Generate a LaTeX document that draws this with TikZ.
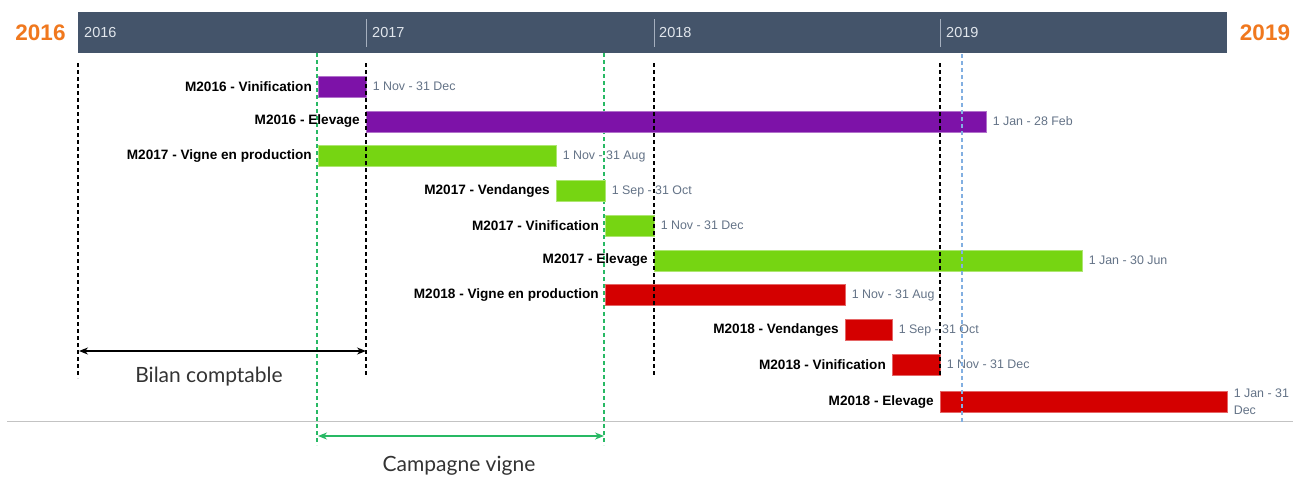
\documentclass[tikz,border=0pt]{standalone}
\usepackage{fontspec}
\setmainfont{Liberation Sans}
\newfontfamily\latofont{Lato}
\usetikzlibrary{arrows.meta}
\definecolor{hdr}{RGB}{68,84,106}
\definecolor{orng}{RGB}{240,120,30}
\definecolor{purp}{RGB}{125,18,168}
\definecolor{grn}{RGB}{118,213,18}
\definecolor{rd}{RGB}{212,0,0}
\definecolor{dategrey}{RGB}{100,115,135}
\definecolor{campgreen}{RGB}{40,185,100}
\definecolor{lblue}{RGB}{130,175,225}
\definecolor{tickgrey}{RGB}{165,175,190}
\definecolor{hdrtext}{RGB}{225,230,236}
\definecolor{sepgrey}{RGB}{195,195,195}
\begin{document}
\begin{tikzpicture}[x=1pt,y=-1pt,
  bar/.style={fill=#1, draw=#1!60!white, line width=0.6pt, minimum height=21pt, inner sep=0pt, anchor=west},
  lab/.style={font=\bfseries\fontsize{13.6}{16}\selectfont, anchor=east, inner sep=0pt},
  datelab/.style={font=\fontsize{12.4}{16}\selectfont, text=dategrey, anchor=west, inner sep=0pt, align=left},
  yeartxt/.style={font=\fontsize{14.5}{16}\selectfont, text=hdrtext, anchor=west, inner sep=0pt},
  bigyear/.style={font=\bfseries\fontsize{22.5}{24}\selectfont, text=orng, inner sep=0pt},
  blackdash/.style={draw=black, line width=1.1pt, dash pattern=on 4pt off 3pt},
  greendash/.style={draw=campgreen, line width=1.1pt, dash pattern=on 4pt off 3pt},
  bluedash/.style={draw=lblue, line width=1.1pt, dash pattern=on 4pt off 3pt},
  spantxt/.style={font=\latofont\fontsize{21}{24}\selectfont, text=black!80, inner sep=0pt},
]
\useasboundingbox (0,0) rectangle (1293,477);
\fill[white] (0,0) rectangle (1293,477);

% header
\node[fill=hdr, minimum width=1149pt, minimum height=41pt, inner sep=0pt, anchor=north west] (hdrbar) at (78,12) {};
\foreach \xx in {366,654,940} \draw[tickgrey, line width=1pt] (\xx,19) -- (\xx,47);
\node[yeartxt] (y16) at (84,33) {2016};
\node[yeartxt] (y17) at (372,33) {2017};
\node[yeartxt] (y18) at (659,33) {2018};
\node[yeartxt] (y19) at (946,33) {2019};
\node[bigyear] (big16) at (40.5,33) {2016};
\node[bigyear] (big19) at (1265,33) {2019};

% separator
\draw[sepgrey, line width=1pt] (7,421) -- (1293,421);

% green dashed lines (below bars)
\draw[greendash] (317,53) -- (317,445);
\draw[greendash] (604,53) -- (604,445);

% bars
\node[bar=purp, minimum width=48pt]  (b1)  at (318,86.5) {};
\node[bar=purp, minimum width=620pt] (b2)  at (366,121.5) {};
\node[bar=grn,  minimum width=238pt] (b3)  at (318,156) {};
\node[bar=grn,  minimum width=49pt]  (b4)  at (556,191) {};
\node[bar=grn,  minimum width=49pt]  (b5)  at (605,225.5) {};
\node[bar=grn,  minimum width=428pt] (b6)  at (654,260.5) {};
\node[bar=rd,   minimum width=240pt] (b7)  at (605,295) {};
\node[bar=rd,   minimum width=47pt]  (b8)  at (845,330) {};
\node[bar=rd,   minimum width=48pt]  (b9)  at (892,364.5) {};
\node[bar=rd,   minimum width=287pt] (b10) at (940,402) {};

% labels
\node[lab] (l1)  at ([xshift=-6pt]b1.west)  {M2016 - Vinification};
\node[lab] (l2)  at ([xshift=-6pt]b2.west)  {M2016 - Elevage};
\node[lab] (l3)  at ([xshift=-6pt]b3.west)  {M2017 - Vigne en production};
\node[lab] (l4)  at ([xshift=-6pt]b4.west)  {M2017 - Vendanges};
\node[lab] (l5)  at ([xshift=-6pt]b5.west)  {M2017 - Vinification};
\node[lab] (l6)  at ([xshift=-6pt]b6.west)  {M2017 - Elevage};
\node[lab] (l7)  at ([xshift=-6pt]b7.west)  {M2018 - Vigne en production};
\node[lab] (l8)  at ([xshift=-6pt]b8.west)  {M2018 - Vendanges};
\node[lab] (l9)  at ([xshift=-6pt]b9.west)  {M2018 - Vinification};
\node[lab] (l10) at ([xshift=-6pt]b10.west) {M2018 - Elevage};

% dates
\node[datelab] (d1)  at ([xshift=6pt]b1.east)  {1 Nov - 31 Dec};
\node[datelab] (d2)  at ([xshift=6pt]b2.east)  {1 Jan - 28 Feb};
\node[datelab] (d3)  at ([xshift=6pt]b3.east)  {1 Nov - 31 Aug};
\node[datelab] (d4)  at ([xshift=6pt]b4.east)  {1 Sep - 31 Oct};
\node[datelab] (d5)  at ([xshift=6pt]b5.east)  {1 Nov - 31 Dec};
\node[datelab] (d6)  at ([xshift=6pt]b6.east)  {1 Jan - 30 Jun};
\node[datelab] (d7)  at ([xshift=6pt]b7.east)  {1 Nov - 31 Aug};
\node[datelab] (d8)  at ([xshift=6pt]b8.east)  {1 Sep - 31 Oct};
\node[datelab] (d9)  at ([xshift=6pt]b9.east)  {1 Nov - 31 Dec};
\node[datelab, font=\fontsize{12.4}{17}\selectfont] (d10) at ([xshift=6pt]b10.east) {1 Jan - 31\\Dec};

% black and blue dashed lines (over bars)
\draw[blackdash] (78,63) -- (78,378);
\draw[blackdash] (366,63) -- (366,376);
\draw[blackdash] (654,63) -- (654,376);
\draw[blackdash] (940,63) -- (940,377);
\draw[bluedash] (962,54) -- (962,423);

% span arrows
\coordinate (bl1) at (79,351);
\coordinate (bl2) at (366,351);
\draw[black, line width=1.4pt, {Stealth[length=9pt,width=7pt]}-{Stealth[length=9pt,width=7pt]}] (bl1) -- (bl2);
\node[spantxt] (bilan) at (209,377) {Bilan comptable};

\coordinate (cv1) at (318,436);
\coordinate (cv2) at (604,436);
\draw[campgreen, line width=1.4pt, {Stealth[length=9pt,width=7pt]}-{Stealth[length=9pt,width=7pt]}] (cv1) -- (cv2);
\node[spantxt] (camp) at (459,466) {Campagne vigne};
\end{tikzpicture}
\end{document}
